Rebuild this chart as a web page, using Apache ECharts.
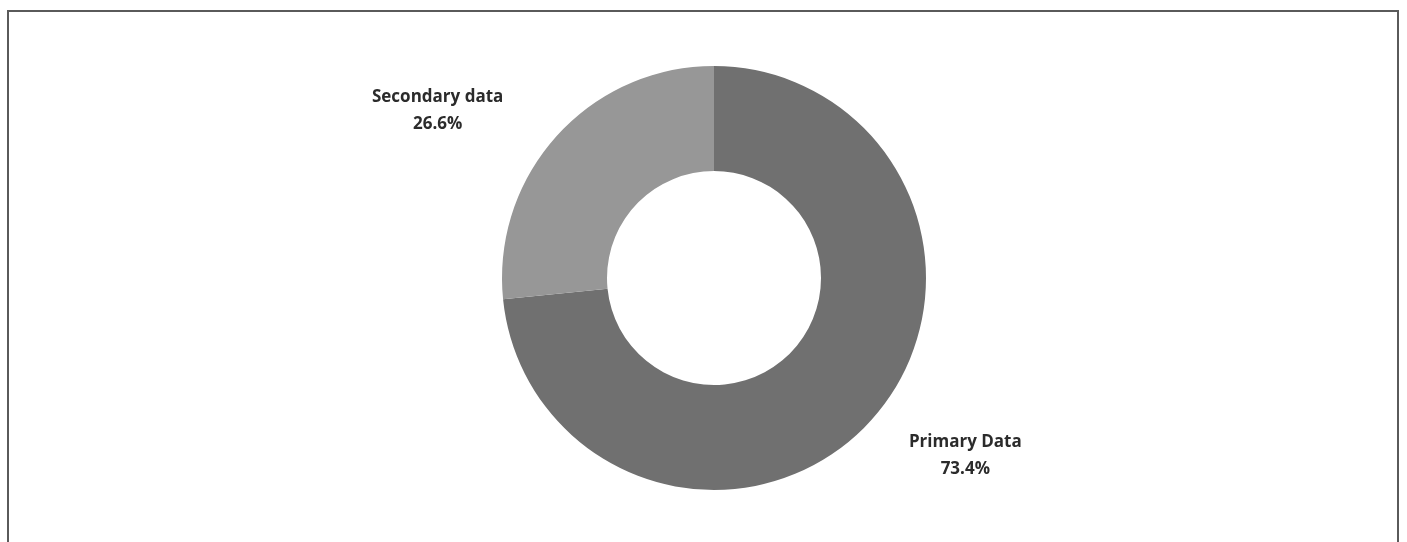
<!DOCTYPE html>
<html>
<head>
<meta charset="utf-8">
<script src="https://cdn.jsdelivr.net/npm/echarts@6/dist/echarts.min.js"></script>
<style>
  html, body { margin: 0; padding: 0; background: #ffffff; width: 1407px; height: 542px; overflow: hidden; }
  #frame { position: absolute; left: 7px; top: 10px; width: 1392px; height: 600px; border: 2px solid #5a5a5a; box-sizing: border-box; }
  #chart { position: absolute; left: 0; top: 0; width: 1407px; height: 542px; }
</style>
</head>
<body>
<div id="frame"></div>
<div id="chart"></div>
<script>
const categories = ['Primary Data', 'Secondary data'];
const values = [73.4, 26.6];
const colors = ['#707070', '#979797'];

const labelLines = [
  { length: 44, length2: 0 },
  { length: 37, length2: 21 }
];
const labelPads = [[12, 0, 0, 0], [0, 0, 0, 0]];

const chart = echarts.init(document.getElementById('chart'), null, { renderer: 'canvas' });
chart.setOption({
  backgroundColor: 'transparent',
  animation: false,
  series: [{
    type: 'pie',
    center: [714, 278],
    radius: [107, 212],
    startAngle: 90,
    clockwise: true,
    avoidLabelOverlap: false,
    label: {
      show: true,
      position: 'outside',
      alignTo: 'none',
      formatter: '{a|{b}}\n{a|{c}%}',
      rich: {
        a: {
          fontFamily: 'Open Sans',
          fontWeight: 'bold',
          fontSize: 17,
          lineHeight: 27,
          color: '#2b2b2b',
          align: 'center'
        }
      }
    },
    labelLine: { show: false },
    itemStyle: { borderWidth: 0 },
    emphasis: { disabled: true },
    data: categories.map((c, i) => ({
      name: c,
      value: values[i],
      itemStyle: { color: colors[i] },
      labelLine: { show: false, length: labelLines[i].length, length2: labelLines[i].length2 },
      label: { padding: labelPads[i] }
    }))
  }]
});
</script>
</body>
</html>
